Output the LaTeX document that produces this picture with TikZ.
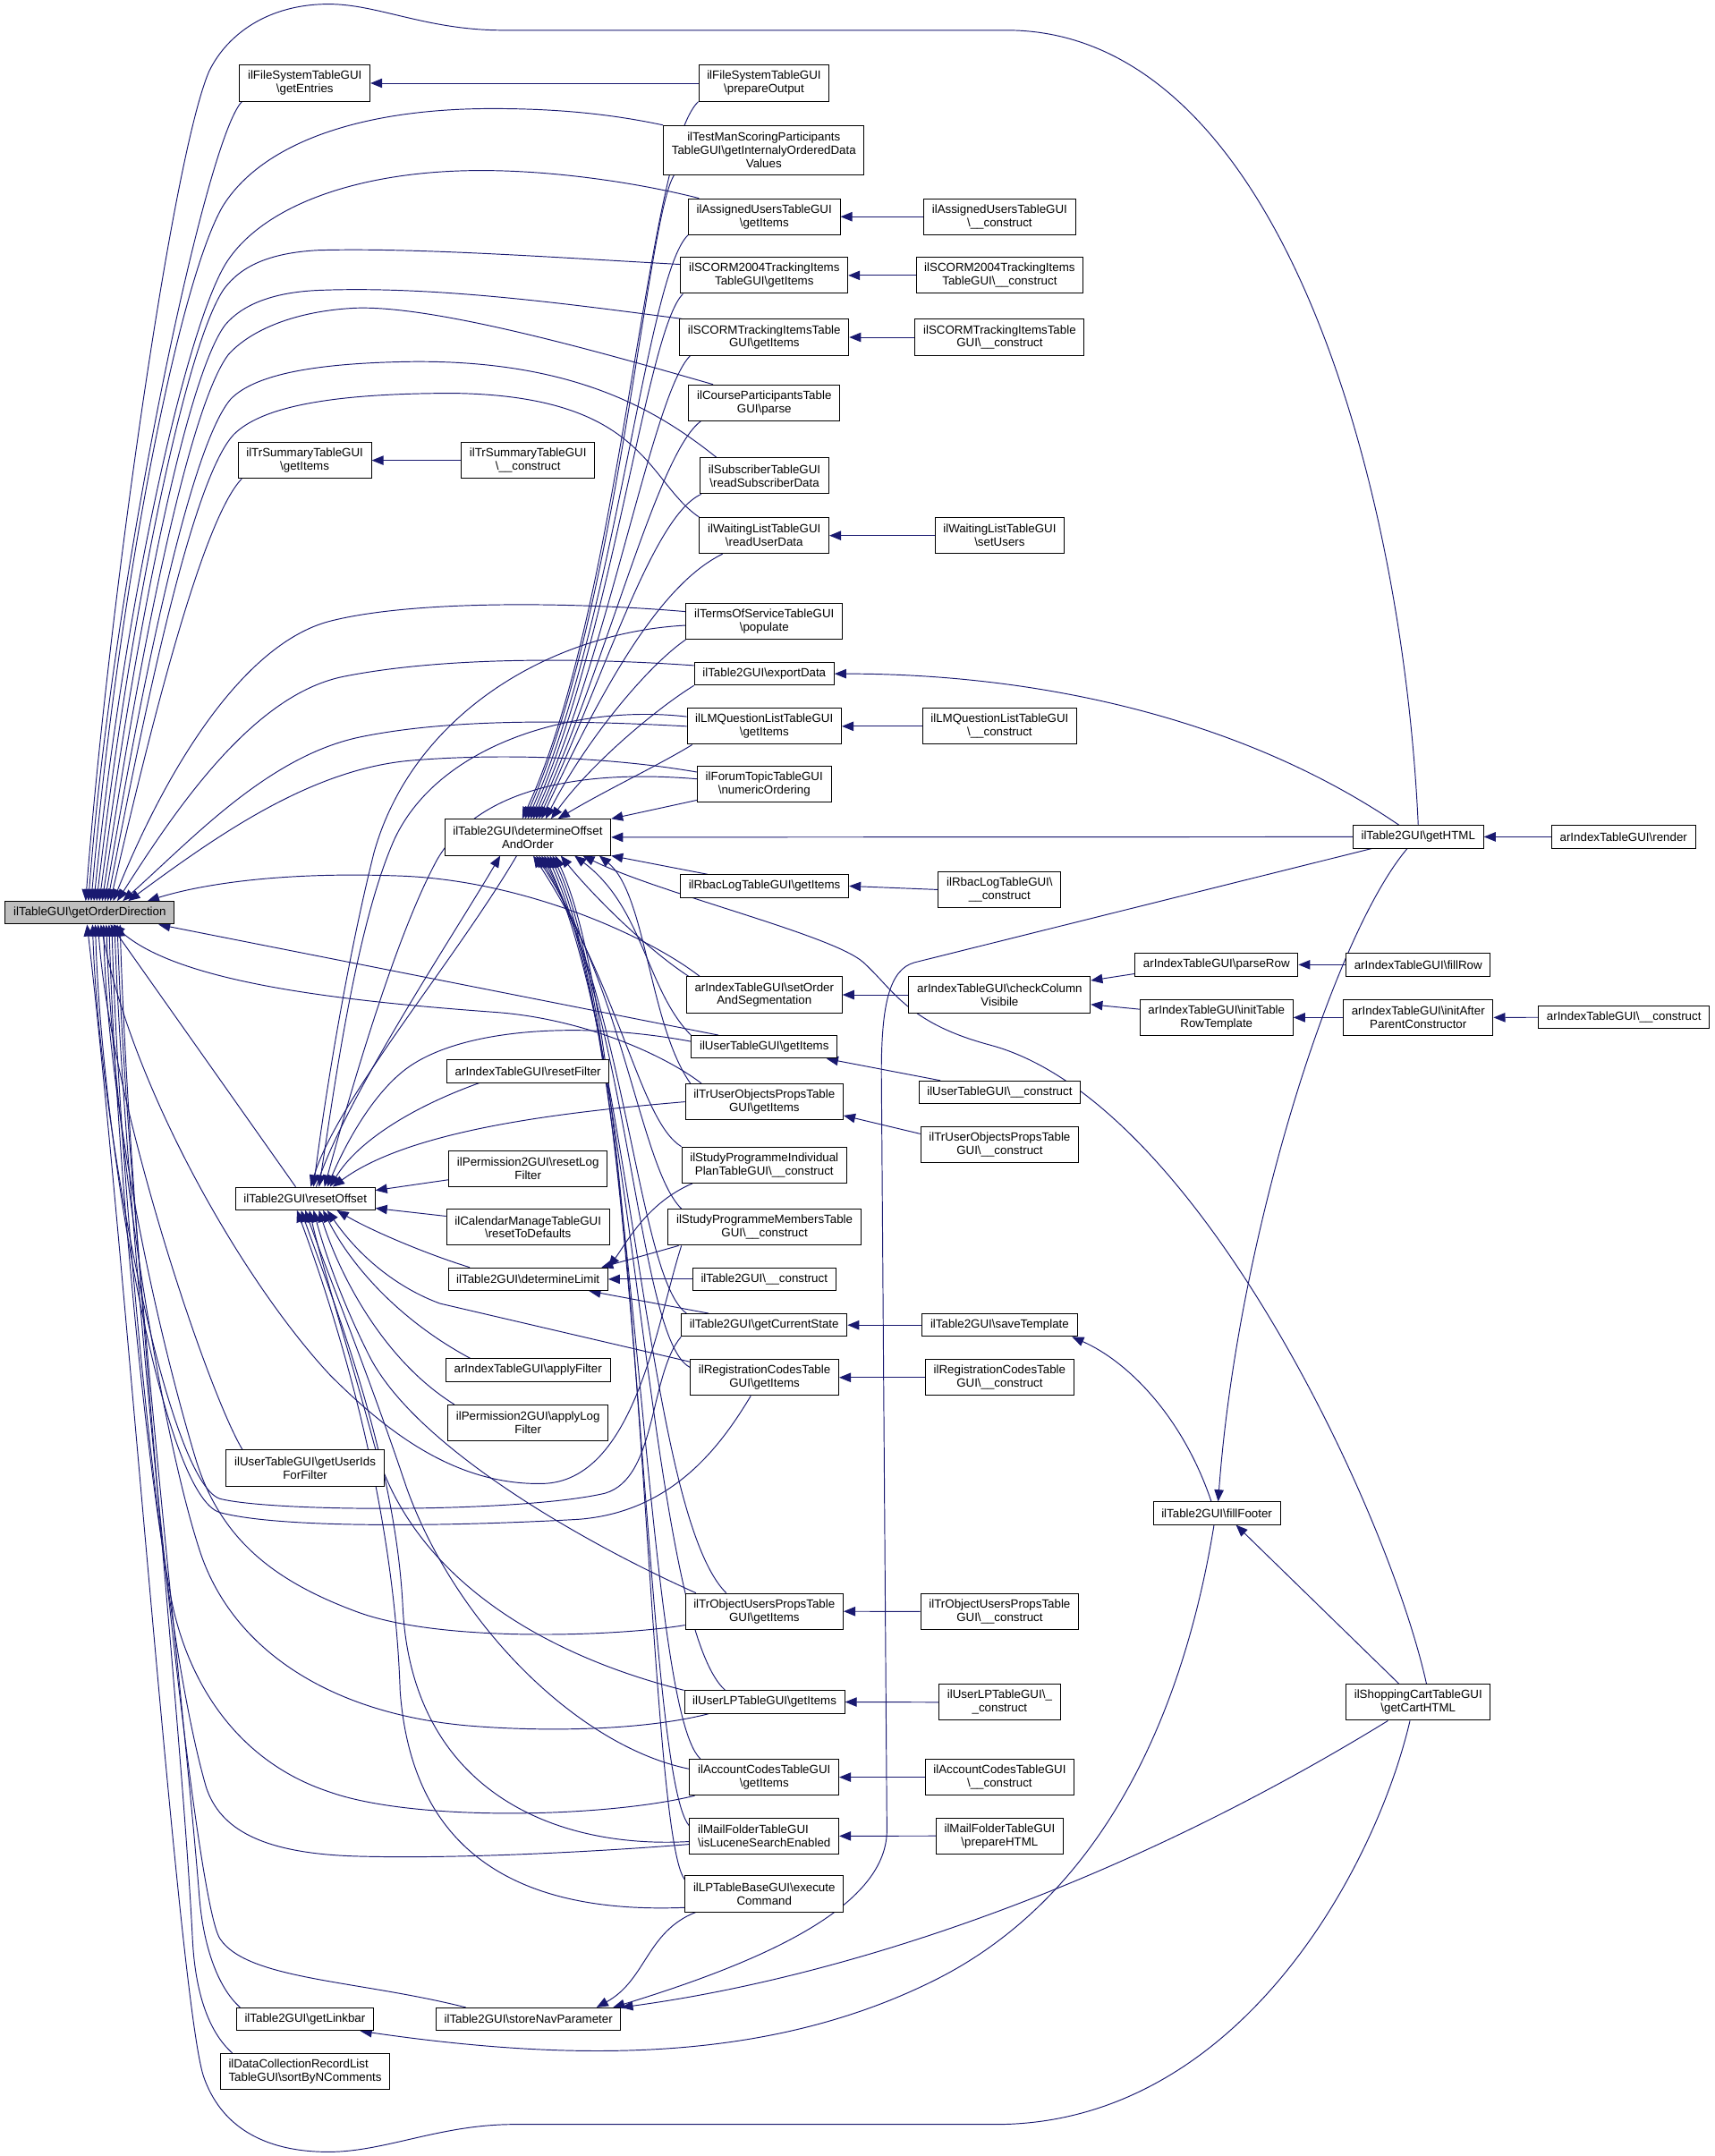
\documentclass[tikz,border=0pt]{standalone}
\usepackage{fontspec}
\usepackage{tikz}
\usetikzlibrary{arrows.meta,calc}
\pgfdeclarelayer{bg}
\pgfsetlayers{bg,main}
\newfontfamily\graphfont{Liberation Sans}
\newcommand{\bsl}{\textbackslash}
\definecolor{edgeblue}{HTML}{191970}
\definecolor{rootgray}{HTML}{BFBFBF}
\tikzset{
  fn/.style={draw=black, fill=white, line width=0.65pt, align=center,
    inner xsep=6pt, inner ysep=1pt, minimum height=16.5pt,
    font=\graphfont\fontsize{8.67pt}{9.7pt}\selectfont},
  fn2/.style={fn, minimum height=26.2pt},
  fn3/.style={fn, minimum height=35.8pt},
  call/.style={draw=edgeblue, line width=0.62pt, -{Triangle[length=8.5pt,width=6.8pt]}}
}
\begin{document}
\begin{tikzpicture}[x=1pt,y=-1pt]
    \useasboundingbox (0,0) rectangle (1247.2,1568);

    % root
    \node [fn, fill=rootgray] (god) at (65.3,663.8) {ilTableGUI\bsl getOrderDirection};

    % second column
    \node [fn2] (entries) at (221.7,60.5) {ilFileSystemTableGUI\\\bsl getEntries};
    \node [fn2] (trsum) at (221.6,334.8) {ilTrSummaryTableGUI\\\bsl getItems};
    \node [fn] (reset) at (222,871.7) {ilTable2GUI\bsl resetOffset};
    \node [fn2] (userids) at (221.9,1067.6) {ilUserTableGUI\bsl getUserIds\\ForFilter};
    \node [fn] (linkbar) at (221.8,1468.5) {ilTable2GUI\bsl getLinkbar};
    \node [fn2, align=left] (sortcomm) at (221.9,1506.5) {ilDataCollectionRecordList\\TableGUI\bsl sortByNComments};

    % third column
    \node [fn2] (trsumc) at (384,334.8) {ilTrSummaryTableGUI\\\bsl \_\_construct};
    \node [fn2] (offset) at (383.8,608.9) {ilTable2GUI\bsl determineOffset\\AndOrder};
    \node [fn] (resetfilter) at (384,779) {arIndexTableGUI\bsl resetFilter};
    \node [fn2] (resetlog) at (384,850) {ilPermission2GUI\bsl resetLog\\Filter};
    \node [fn2] (calreset) at (384,892.5) {ilCalendarManageTableGUI\\\bsl resetToDefaults};
    \node [fn] (limit) at (384,930.3) {ilTable2GUI\bsl determineLimit};
    \node [fn] (applyfilter) at (384,996.4) {arIndexTableGUI\bsl applyFilter};
    \node [fn2] (applylog) at (384,1034.8) {ilPermission2GUI\bsl applyLog\\Filter};
    \node [fn] (storenav) at (384.3,1468.5) {ilTable2GUI\bsl storeNavParameter};

    % fourth column
    \node [fn2] (prepout) at (555.6,60.5) {ilFileSystemTableGUI\\\bsl prepareOutput};
    \node [fn3] (testman) at (555.5,109.2) {ilTestManScoringParticipants\\TableGUI\bsl getInternalyOrderedData\\Values};
    \node [fn2] (assigned) at (555.8,157.6) {ilAssignedUsersTableGUI\\\bsl getItems};
    \node [fn2] (scorm2004) at (555.8,200.3) {ilSCORM2004TrackingItems\\TableGUI\bsl getItems};
    \node [fn2] (scorm) at (555.8,245.3) {ilSCORMTrackingItemsTable\\GUI\bsl getItems};
    \node [fn2] (coursepart) at (555.8,293) {ilCourseParticipantsTable\\GUI\bsl parse};
    \node [fn2] (subscriber) at (556,346) {ilSubscriberTableGUI\\\bsl readSubscriberData};
    \node [fn2] (waiting) at (555.8,389.5) {ilWaitingListTableGUI\\\bsl readUserData};
    \node [fn2] (terms) at (555.8,451.8) {ilTermsOfServiceTableGUI\\\bsl populate};
    \node [fn] (export) at (555.8,490) {ilTable2GUI\bsl exportData};
    \node [fn2] (lmq) at (555.8,528.2) {ilLMQuestionListTableGUI\\\bsl getItems};
    \node [fn2] (forum) at (555.8,570.5) {ilForumTopicTableGUI\\\bsl numericOrdering};
    \node [fn] (rbac) at (556,644.4) {ilRbacLogTableGUI\bsl getItems};
    \node [fn2] (setorder) at (555.8,723.5) {arIndexTableGUI\bsl setOrder\\AndSegmentation};
    \node [fn] (usertab) at (555.8,761.4) {ilUserTableGUI\bsl getItems};
    \node [fn2] (truserobj) at (555.8,801.3) {ilTrUserObjectsPropsTable\\GUI\bsl getItems};
    \node [fn2] (spindiv) at (555.8,847.3) {ilStudyProgrammeIndividual\\PlanTableGUI\bsl \_\_construct};
    \node [fn2] (spmembers) at (556,892.5) {ilStudyProgrammeMembersTable\\GUI\bsl \_\_construct};
    \node [fn] (t2construct) at (555.8,930.3) {ilTable2GUI\bsl \_\_construct};
    \node [fn] (curstate) at (555.8,963.7) {ilTable2GUI\bsl getCurrentState};
    \node [fn2] (regcodes) at (556,1001.8) {ilRegistrationCodesTable\\GUI\bsl getItems};
    \node [fn2] (trobjusers) at (555.8,1171.9) {ilTrObjectUsersPropsTable\\GUI\bsl getItems};
    \node [fn] (userlp) at (556,1237.8) {ilUserLPTableGUI\bsl getItems};
    \node [fn2] (accodes) at (555.8,1292.5) {ilAccountCodesTableGUI\\\bsl getItems};
    \node [fn2, align=left] (mailfolder) at (555.8,1335.3) {ilMailFolderTableGUI\\\bsl isLuceneSearchEnabled};
    \node [fn2] (lpbase) at (555.8,1377.3) {ilLPTableBaseGUI\bsl execute\\Command};

    % fifth column
    \node [fn2] (assignedc) at (727,157.6) {ilAssignedUsersTableGUI\\\bsl \_\_construct};
    \node [fn2] (scorm2004c) at (727,200.3) {ilSCORM2004TrackingItems\\TableGUI\bsl \_\_construct};
    \node [fn2] (scormc) at (727,245.3) {ilSCORMTrackingItemsTable\\GUI\bsl \_\_construct};
    \node [fn2] (waitingc) at (727,389.5) {ilWaitingListTableGUI\\\bsl setUsers};
    \node [fn2] (lmqc) at (727,528.2) {ilLMQuestionListTableGUI\\\bsl \_\_construct};
    \node [fn2] (rbacc) at (727,647) {ilRbacLogTableGUI\bsl\\\_\_construct};
    \node [fn2] (checkcol) at (727,723.5) {arIndexTableGUI\bsl checkColumn\\Visibile};
    \node [fn] (usertabc) at (727,794.4) {ilUserTableGUI\bsl \_\_construct};
    \node [fn2] (truserobjc) at (727,832.6) {ilTrUserObjectsPropsTable\\GUI\bsl \_\_construct};
    \node [fn] (savetpl) at (727,963.7) {ilTable2GUI\bsl saveTemplate};
    \node [fn2] (regcodesc) at (727,1001.8) {ilRegistrationCodesTable\\GUI\bsl \_\_construct};
    \node [fn2] (trobjusersc) at (727,1172) {ilTrObjectUsersPropsTable\\GUI\bsl \_\_construct};
    \node [fn2] (userlpc) at (727,1238) {ilUserLPTableGUI\bsl \_\\\_construct};
    \node [fn2] (accodesc) at (727,1292.5) {ilAccountCodesTableGUI\\\bsl \_\_construct};
    \node [fn2] (mailprep) at (727,1335.2) {ilMailFolderTableGUI\\\bsl prepareHTML};

    % right columns
    \node [fn] (parserow) at (884.7,701.6) {arIndexTableGUI\bsl parseRow};
    \node [fn2] (inittable) at (884.7,740) {arIndexTableGUI\bsl initTable\\RowTemplate};
    \node [fn] (fillfooter) at (884.9,1100.5) {ilTable2GUI\bsl fillFooter};
    \node [fn] (gethtml) at (1031.4,608.6) {ilTable2GUI\bsl getHTML};
    \node [fn] (fillrow) at (1031.4,701.6) {arIndexTableGUI\bsl fillRow};
    \node [fn2] (initafter) at (1031.4,740) {arIndexTableGUI\bsl initAfter\\ParentConstructor};
    \node [fn2] (cart) at (1031.4,1238) {ilShoppingCartTableGUI\\\bsl getCartHTML};
    \node [fn] (render) at (1180.7,608.6) {arIndexTableGUI\bsl render};
    \node [fn] (arconstruct) at (1181,739.9) {arIndexTableGUI\bsl \_\_construct};

    \begin{pgfonlayer}{bg}    % calls run under the boxes

        % callers of getOrderDirection, from above
        \draw[call] (gethtml.north) .. controls (1020,350) and (930,22) .. (732,22) -- (366,22) .. controls (310,22) and (275,3) .. (239,3) .. controls (195,3) and (165,25) .. (152,52) .. controls (125,115) and (78,450) .. ([xshift=-3]god.north);
        \draw[call] ([xshift=2]entries.south west) .. controls (150,100) and (82,420) .. ([xshift=-1]god.north);
        \draw[call] (testman.north west) .. controls (440,82) and (400,79) .. (358,79) .. controls (260,79) and (190,105) .. (162,150) .. controls (130,205) and (86,430) .. ([xshift=1]god.north);
        \draw[call] ([xshift=8]assigned.north west) .. controls (460,132) and (400,124) .. (350,124) .. controls (260,124) and (190,150) .. (164,192) .. controls (135,240) and (90,440) .. ([xshift=3]god.north);
        \draw[call] ([yshift=8]scorm2004.west) .. controls (400,187) and (300,180) .. (231,182) .. controls (195,184) and (175,194) .. (163,210) .. controls (135,250) and (94,450) .. ([xshift=5]god.north);
        \draw[call] ([xshift=2]scorm.north west) .. controls (420,222) and (320,208) .. (235,211) .. controls (198,212) and (176,222) .. (164,236) .. controls (136,272) and (98,460) .. ([xshift=7]god.north);
        \draw[call] ([xshift=18]coursepart.north west) .. controls (450,260) and (320,222) .. (259,224) .. controls (215,226) and (182,240) .. (166,258) .. controls (138,295) and (102,470) .. ([xshift=9]god.north);
        \draw[call] ([xshift=12]subscriber.north west) .. controls (480,300) and (420,262) .. (300,263) .. controls (230,264) and (186,272) .. (168,290) .. controls (140,322) and (106,480) .. ([xshift=11]god.north);
        \draw[call] (waiting.north west) .. controls (470,350) and (470,288) .. (330,286) .. controls (240,286) and (190,296) .. (170,316) .. controls (142,346) and (110,490) .. ([xshift=13]god.north);
        \draw[call] ([xshift=3]trsum.south west) .. controls (150,375) and (116,500) .. ([xshift=15]god.north);
        \draw[call] ([yshift=7]terms.west) .. controls (420,438) and (300,436) .. (239,452) .. controls (180,468) and (125,550) .. ([xshift=17]god.north);
        \draw[call] ([yshift=6]export.west) .. controls (420,478) and (320,478) .. (250,492) .. controls (185,505) and (130,585) .. ([xshift=20]god.north);
        \draw[call] (lmq.west) .. controls (420,524) and (330,522) .. (262,536) .. controls (195,550) and (140,610) .. ([xshift=24]god.north);
        \draw[call] ([yshift=9]forum.west) .. controls (440,550) and (360,548) .. (300,553) .. controls (225,559) and (155,610) .. ([xshift=28]god.north);
        \draw[call] ([xshift=10]setorder.north west) .. controls (470,680) and (380,640) .. (290,637) .. controls (210,634) and (150,642) .. ([xshift=42]god.north);

        % callers of getOrderDirection, from below
        \draw[call] ([xshift=20]usertab.north west) -- ([xshift=50]god.south);
        \draw[call] ([xshift=12]truserobj.north west) .. controls (480,765) and (420,740) .. (358,736) .. controls (250,728) and (130,715) .. ([xshift=17]god.south);
        \draw[call] (curstate.south west) .. controls (472,1000) and (478,1075) .. (440,1086) .. controls (380,1100) and (200,1100) .. (160,1090) .. controls (122,1078) and (72,820) .. ([xshift=2]god.south);
        \draw[call] ([xshift=-10]regcodes.south) .. controls (525,1050) and (490,1100) .. (420,1105) .. controls (330,1110) and (205,1112) .. (160,1100) .. controls (118,1088) and (74,830) .. ([xshift=4]god.south);
        \draw[call] ([xshift=10]spmembers.south west) .. controls (478,960) and (462,1078) .. (394,1079) .. controls (330,1080) and (280,1040) .. (240,1000) .. controls (175,930) and (96,790) .. ([xshift=8]god.south);
        \draw[call] ([xshift=12]userids.north west) .. controls (150,1010) and (80,800) .. ([xshift=6]god.south);
        \draw[call] ([yshift=-10]trobjusers.west) .. controls (450,1190) and (320,1195) .. (259,1172) .. controls (200,1150) and (160,1120) .. (142,1060) .. controls (112,960) and (78,800) .. ([xshift=10]god.south);
        \draw[call] ([xshift=18]userlp.south west) .. controls (470,1258) and (400,1260) .. (340,1255) .. controls (240,1246) and (170,1200) .. (146,1130) .. controls (116,1040) and (82,820) .. ([xshift=12]god.south);
        \draw[call] ([xshift=4]accodes.south west) .. controls (440,1322) and (300,1325) .. (239,1303) .. controls (170,1280) and (135,1220) .. (124,1160) .. controls (104,1050) and (84,830) .. ([xshift=14]god.south);
        \draw[call] ([yshift=-6]mailfolder.west) .. controls (430,1347) and (330,1352) .. (260,1350) .. controls (190,1348) and (160,1330) .. (150,1300) .. controls (115,1180) and (86,840) .. ([xshift=16]god.south);
        \draw[call] ([xshift=22]storenav.north west) .. controls (260,1440) and (180,1440) .. (160,1410) .. controls (140,1380) and (90,870) .. ([xshift=18]god.south);
        \draw[call] ([xshift=3]linkbar.north west) .. controls (158,1445) and (148,1415) .. (145,1380) .. controls (135,1250) and (92,880) .. ([xshift=20]god.south);
        \draw[call] ([xshift=9]sortcomm.north west) .. controls (152,1478) and (142,1450) .. (140,1410) .. controls (132,1250) and (94,900) .. ([xshift=22]god.south);
        \draw[call] ([xshift=-6]cart.south) .. controls (1000,1360) and (900,1545) .. (724,1545) -- (374,1545) .. controls (320,1545) and (280,1565) .. (239,1565) .. controls (190,1565) and (160,1545) .. (148,1510) .. controls (130,1455) and (90,900) .. ([xshift=-2]god.south);
        \draw[call] ([xshift=-7]reset.north) -- ([xshift=15]god.south);

        % callers of determineOffsetAndOrder
        \draw[call] (prepout.south west) .. controls (470,110) and (452,440) .. ([xshift=-4]offset.north);
        \draw[call] ([xshift=8]testman.south west) .. controls (470,160) and (450,440) .. ([xshift=-2]offset.north);
        \draw[call] (assigned.south west) .. controls (470,200) and (448,450) .. (offset.north);
        \draw[call] ([xshift=2]scorm2004.south west) .. controls (470,240) and (446,460) .. ([xshift=2]offset.north);
        \draw[call] ([xshift=8]scorm.south west) .. controls (475,285) and (444,470) .. ([xshift=4]offset.north);
        \draw[call] ([xshift=9]coursepart.south west) .. controls (478,330) and (442,480) .. ([xshift=6]offset.north);
        \draw[call] ([xshift=1]subscriber.south west) .. controls (475,375) and (440,490) .. ([xshift=8]offset.north);
        \draw[call] ([xshift=17]waiting.south west) .. controls (480,425) and (438,500) .. ([xshift=10]offset.north);
        \draw[call] (terms.south west) .. controls (470,485) and (425,540) .. ([xshift=13]offset.north);
        \draw[call] (export.south west) .. controls (478,515) and (430,555) .. ([xshift=17]offset.north);
        \draw[call] ([xshift=4]lmq.south west) .. controls (480,556) and (440,575) .. ([xshift=22]offset.north);
        \draw[call] ([yshift=2]forum.south west) -- (offset.north east);
        \draw[call] (gethtml.west) -- (offset.east);
        \draw[call] ([xshift=20]rbac.north west) -- (offset.south east);
        \draw[call] ([xshift=8]reset.north) .. controls (250,800) and (330,680) .. ([xshift=-20]offset.south);
        \draw[call] ([xshift=2]setorder.north west) .. controls (470,690) and (430,650) .. ([xshift=24]offset.south);
        \draw[call] (usertab.north west) .. controls (470,720) and (468,660) .. ([xshift=34]offset.south);
        \draw[call] ([xshift=6]cart.north) .. controls (1010,1100) and (870,800) .. (720,760) .. controls (660,744) and (650,720) .. (628,700) .. controls (606,680) and (480,650) .. ([xshift=40]offset.south);
        \draw[call] ([xshift=4]truserobj.north west) .. controls (472,745) and (470,650) .. ([xshift=52]offset.south);
        \draw[call] (spindiv.north west) .. controls (465,815) and (452,720) .. ([xshift=4]offset.south);
        \draw[call] ([xshift=10]spmembers.north west) .. controls (466,850) and (454,720) .. ([xshift=6]offset.south);
        \draw[call] ([xshift=4]curstate.north west) .. controls (464,930) and (456,730) .. ([xshift=8]offset.south);
        \draw[call] ([yshift=-6]regcodes.north west) .. controls (464,975) and (458,740) .. ([xshift=10]offset.south);
        \draw[call] ([xshift=30]trobjusers.north west) .. controls (470,1100) and (460,760) .. ([xshift=12]offset.south);
        \draw[call] ([xshift=30]userlp.north west) .. controls (472,1180) and (462,760) .. ([xshift=14]offset.south);
        \draw[call] ([xshift=8]accodes.north west) .. controls (468,1240) and (464,760) .. ([xshift=16]offset.south);
        \draw[call] ([yshift=-6]mailfolder.north west) .. controls (468,1290) and (466,760) .. ([xshift=18]offset.south);
        \draw[call] ([yshift=-3]lpbase.north west) .. controls (470,1330) and (468,760) .. ([xshift=20]offset.south);

        % callers of resetOffset
        \draw[call] ([xshift=-8]offset.south) .. controls (330,700) and (245,800) .. ([xshift=4]reset.north);
        \draw[call] ([yshift=-3]terms.west) .. controls (400,460) and (300,520) .. (272,620) .. controls (252,700) and (236,800) .. ([xshift=6]reset.north);
        \draw[call] ([yshift=7]lmq.west) .. controls (420,512) and (320,540) .. (287,610) .. controls (258,675) and (242,800) .. ([xshift=10]reset.north);
        \draw[call] ([yshift=4]forum.west) .. controls (430,560) and (350,570) .. (318,625) .. controls (288,680) and (256,790) .. ([xshift=14]reset.north);
        \draw[call] ([yshift=4]usertab.west) .. controls (420,742) and (330,748) .. (292,780) .. controls (268,800) and (250,835) .. ([xshift=16]reset.north);
        \draw[call] ([xshift=24]resetfilter.south west) .. controls (300,805) and (260,830) .. ([xshift=18]reset.north);
        \draw[call] (truserobj.west) .. controls (420,808) and (300,820) .. ([xshift=20]reset.north);
        \draw[call] ([yshift=-8]resetlog.west) -- ([yshift=6]reset.east);
        \draw[call] ([yshift=8]calreset.west) -- ([yshift=-7]reset.east);
        \draw[call] ([xshift=16]limit.north west) .. controls (310,912) and (270,895) .. ([xshift=23]reset.south);
        \draw[call] ([xshift=18]applyfilter.north west) .. controls (290,960) and (255,920) .. ([xshift=13]reset.south);
        \draw[call] ([xshift=5]applylog.north west) .. controls (280,990) and (248,930) .. ([xshift=10]reset.south);
        \draw[call] ([yshift=-2]regcodes.north west) -- (320,948) .. controls (290,937) and (262,915) .. ([xshift=16]reset.south);
        \draw[call] ([xshift=8]trobjusers.north west) .. controls (420,1120) and (300,1050) .. (268,985) .. controls (248,945) and (236,910) .. ([xshift=6]reset.south);
        \draw[call] (userlp.north west) .. controls (400,1205) and (300,1150) .. (272,1050) .. controls (256,990) and (234,920) .. ([xshift=3]reset.south);
        \draw[call] ([yshift=6]accodes.west) .. controls (420,1270) and (330,1180) .. (295,1080) .. controls (270,1005) and (236,920) .. (reset.south);
        \draw[call] ([yshift=-4]mailfolder.west) .. controls (400,1345) and (300,1300) .. (293,1170) .. controls (288,1060) and (240,940) .. ([xshift=-3]reset.south);
        \draw[call] ([yshift=-10]lpbase.west) .. controls (380,1392) and (300,1350) .. (291,1230) .. controls (286,1080) and (238,940) .. ([xshift=-6]reset.south);

        % callers of determineLimit
        \draw[call] ([xshift=8]spindiv.south west) .. controls (470,875) and (455,905) .. (limit.north east);
        \draw[call] ([xshift=8]spmembers.south west) -- ([xshift=-5]limit.north east);
        \draw[call] (t2construct.west) -- (limit.east);
        \draw[call] ([xshift=20]curstate.north west) -- ([xshift=-14]limit.south east);

        % single calls further right
        \draw[call] (prepout.west) -- (entries.east);
        \draw[call] (trsumc.west) -- (trsum.east);
        \draw[call] (assignedc.west) -- (assigned.east);
        \draw[call] (scorm2004c.west) -- (scorm2004.east);
        \draw[call] (scormc.west) -- (scorm.east);
        \draw[call] (waitingc.west) -- (waiting.east);
        \draw[call] (lmqc.west) -- (lmq.east);
        \draw[call] (rbacc.west) -- (rbac.east);
        \draw[call] (checkcol.west) -- (setorder.east);
        \draw[call] ([xshift=16]usertabc.north west) -- ([xshift=-8]usertab.south east);
        \draw[call] ([yshift=8]truserobjc.west) -- ([yshift=-10]truserobj.east);
        \draw[call] (savetpl.west) -- (curstate.east);
        \draw[call] (regcodesc.west) -- (regcodes.east);
        \draw[call] (trobjusersc.west) -- (trobjusers.east);
        \draw[call] (userlpc.west) -- (userlp.east);
        \draw[call] (accodesc.west) -- (accodes.east);
        \draw[call] (mailprep.west) -- (mailfolder.east);
        \draw[call] ([yshift=2]parserow.south west) -- ([yshift=-3]checkcol.north east);
        \draw[call] ([yshift=6]inittable.west) -- ([yshift=-7]checkcol.east);
        \draw[call] (fillrow.west) -- (parserow.east);
        \draw[call] (initafter.west) -- (inittable.east);
        \draw[call] (arconstruct.west) -- (initafter.east);
        \draw[call] (render.west) -- (gethtml.east);

        % getHTML, fillFooter and getCartHTML
        \draw[call] ([xshift=-14]gethtml.north) .. controls (900,520) and (750,490) .. (export.east);
        \draw[call] ([xshift=-8]gethtml.south) .. controls (970,680) and (900,900) .. ([xshift=1]fillfooter.north);
        \draw[call] ([xshift=-34]gethtml.south) -- (665,700) .. controls (647,705) and (641,730) .. (641,780) -- (645,1330) .. controls (646,1385) and (560,1425) .. ([xshift=-6]storenav.north east);
        \draw[call] ([xshift=-4]fillfooter.north) .. controls (860,1030) and (820,990) .. ([xshift=-4]savetpl.south east);
        \draw[call] ([xshift=-2]fillfooter.south) .. controls (860,1250) and (800,1380) .. (680,1440) .. controls (560,1500) and (420,1500) .. ([xshift=-10]linkbar.south east);
        \draw[call] ([xshift=-14]cart.north) -- ([xshift=14]fillfooter.south);
        \draw[call] ([xshift=-22]cart.south) .. controls (800,1380) and (600,1440) .. (storenav.north east);
        \draw[call] ([xshift=8]lpbase.south west) .. controls (470,1405) and (470,1440) .. ([xshift=-18]storenav.north east);
    \end{pgfonlayer}
  \end{tikzpicture}
\end{document}
